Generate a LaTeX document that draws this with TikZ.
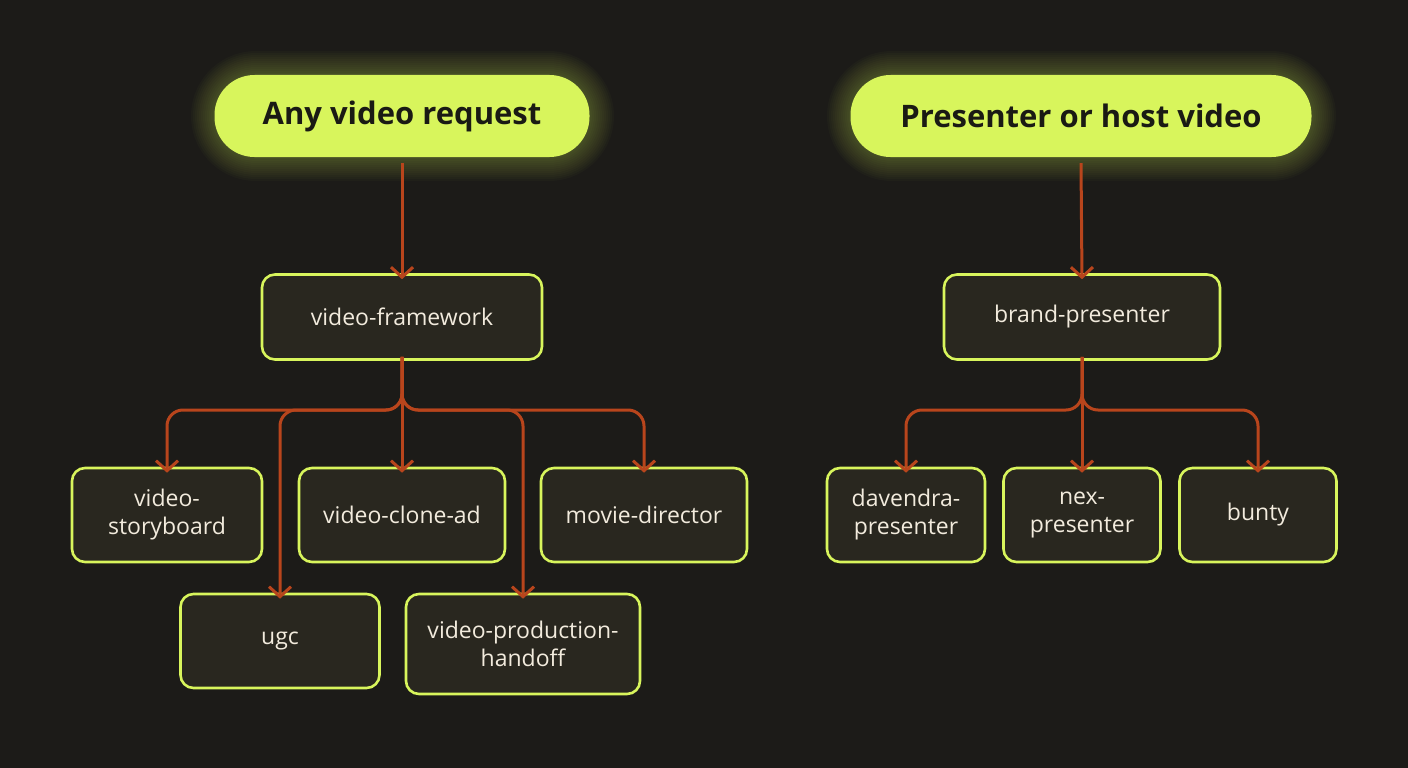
\documentclass[tikz,border=0pt]{standalone}
\usepackage{fontspec}
\setmainfont{Open Sans}
\usetikzlibrary{arrows.meta}
\definecolor{bg}{HTML}{1C1B18}
\definecolor{lime}{HTML}{D8F55C}
\definecolor{boxfill}{HTML}{29271F}
\definecolor{wire}{HTML}{B8451C}
\definecolor{txt}{HTML}{F2EBDD}
\definecolor{dark}{HTML}{1A1A14}
\begin{document}
\begin{tikzpicture}[x=1pt,y=-1pt,
  pill/.style={draw=none,fill=lime,rounded corners=40,text=dark,font=\fontsize{31}{36}\selectfont\bfseries,inner sep=0,minimum height=82},
  box/.style={draw=lime,line width=2.6,fill=boxfill,rounded corners=13,text=txt,font=\fontsize{23}{28}\selectfont,align=center,inner sep=0,minimum height=88},
  wr/.style={draw=wire,line width=3,rounded corners=16,-{Straight Barb[length=10,width=22]}}]
\fill[bg] (0,0) rectangle (1408,768);
\useasboundingbox (0,0) rectangle (1408,768);
% glow
\foreach \w in {2,4,...,24}{
  \fill[lime,opacity=0.022,rounded corners=41+\w] (215-\w,75-\w) rectangle (590+\w,157+\w);
  \fill[lime,opacity=0.022,rounded corners=41+\w] (851-\w,75-\w) rectangle (1312+\w,157+\w);
}
\node[pill,minimum width=375] (any) at (402,116) {Any video request};
\node[pill,minimum width=461] (pres) at (1081,116) {Presenter or host video};
\node[box,minimum width=280,minimum height=85] (vf) at (402,317) {video-framework};
\node[box,minimum width=276,minimum height=85] (bp) at (1082,317) {brand-presenter};
\node[box,minimum width=190,minimum height=94] (vs) at (167,515) {video-\\storyboard};
\node[box,minimum width=206,minimum height=94] (vc) at (402,515) {video-clone-ad};
\node[box,minimum width=206,minimum height=94] (md) at (644,515) {movie-director};
\node[box,minimum width=199,minimum height=94] (ugc) at (280,641) {ugc};
\node[box,minimum width=234,minimum height=100] (vp) at (523,644) {video-production-\\handoff};
\node[box,minimum width=158,minimum height=94] (dp) at (906,515) {davendra-\\presenter};
\node[box,minimum width=157,minimum height=94] (np) at (1082,515) {nex-\\presenter};
\node[box,minimum width=157,minimum height=94] (bu) at (1258,515) {bunty};
% connectors
\draw[wr] (any.south) ++(0,6) -- ([yshift=-6]vf.north);
\draw[wr] (pres.south) ++(0,6) -- ([yshift=-6]bp.north);
\coordinate (j1) at (402,410);
\draw[wr] ([yshift=4]vf.south) -- (j1) -| ([yshift=-6]vs.north);
\draw[wr] ([yshift=4]vf.south) -- (j1) -| ([yshift=-6]md.north);
\draw[wr] ([yshift=4]vf.south) -- ([yshift=-6]vc.north);
\draw[wr] ([yshift=4]vf.south) -- (j1) -| ([yshift=-6]ugc.north);
\draw[wr] ([yshift=4]vf.south) -- (j1) -| ([yshift=-6]vp.north);
\coordinate (j2) at (1082,410);
\draw[wr] ([yshift=4]bp.south) -- (j2) -| ([yshift=-6]dp.north);
\draw[wr] ([yshift=4]bp.south) -- (j2) -| ([yshift=-6]bu.north);
\draw[wr] ([yshift=4]bp.south) -- ([yshift=-6]np.north);
\end{tikzpicture}
\end{document}
